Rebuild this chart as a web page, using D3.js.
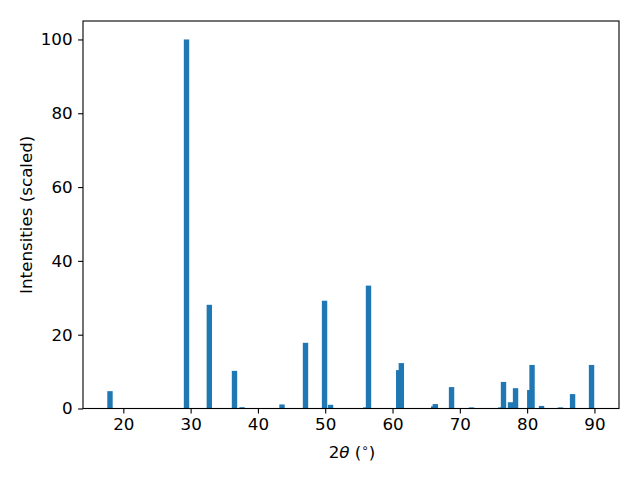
<!DOCTYPE html>
<html>
<head>
<meta charset="utf-8">
<script src="https://cdn.jsdelivr.net/npm/d3@7"></script>
<style>
  body { margin: 0; background: #fff; }
  text { font-family: "DejaVu Sans", sans-serif; }
</style>
</head>
<body>
<svg id="chart" width="640" height="480"></svg>
<script>
// 2-theta positions (degrees)
const twoTheta = [18.02, 29.39, 32.78, 36.52, 37.64, 43.58, 47.07, 49.90, 50.79, 56.02, 56.43,
                  60.92, 61.31, 66.12, 66.36, 68.77, 71.74, 76.08, 76.49, 77.53, 78.28,
                  80.39, 80.73, 82.14, 84.96, 86.75, 89.57];
// scaled intensities
const intensities = [4.7, 100, 28.1, 10.2, 0.35, 1.1, 17.8, 29.2, 1.0, 0.3, 33.3,
                     10.4, 12.3, 0.6, 1.2, 5.8, 0.3, 0.3, 7.2, 1.7, 5.5,
                     5.0, 11.8, 0.7, 0.3, 3.9, 11.8];
const xTicks = [20, 30, 40, 50, 60, 70, 80, 90];
const yTicks = [0, 20, 40, 60, 80, 100];
const barWidth = 0.8;

const svg = d3.select("#chart");
const L = 83, R = 619, T = 21, B = 408.5;
const FS = "16.7px";

const x = d3.scaleLinear().domain([14.01, 93.65]).range([L, R]);
const y = d3.scaleLinear().domain([0, 105]).range([B, T]);

const data = twoTheta.map((t, i) => ({t, v: intensities[i]}));

svg.append("g").selectAll("rect").data(data).enter().append("rect")
  .attr("x", d => x(d.t - barWidth / 2))
  .attr("width", d => x(d.t + barWidth / 2) - x(d.t - barWidth / 2))
  .attr("y", d => y(d.v))
  .attr("height", d => y(0) - y(d.v))
  .attr("fill", "#1f77b4");

// frame
svg.append("rect").attr("x", L).attr("y", T).attr("width", R - L).attr("height", B - T)
  .attr("fill", "none").attr("stroke", "#000").attr("stroke-width", 1.1);

const xAxis = svg.append("g").attr("transform", `translate(0,${B})`)
  .call(d3.axisBottom(x).tickValues(xTicks).tickSize(4.9).tickPadding(4.5).tickFormat(d3.format("d")));
const yAxis = svg.append("g").attr("transform", `translate(${L},0)`)
  .call(d3.axisLeft(y).tickValues(yTicks).tickSize(4.9).tickPadding(5.5).tickFormat(d3.format("d")));
[xAxis, yAxis].forEach(a => {
  a.select(".domain").remove();
  a.attr("font-size", null).attr("font-family", null);
  a.selectAll(".tick line").attr("stroke", "#000").attr("stroke-width", 1.1);
  a.selectAll(".tick text").attr("fill", "#000").style("font-size", FS)
    .style("font-family", "'DejaVu Sans', sans-serif");
});

// x label: 2θ (°)
const xl = svg.append("text").attr("x", (L + R) / 2 + 1).attr("y", 458)
  .attr("text-anchor", "middle").style("font-size", FS).attr("fill", "#000");
xl.append("tspan").text("2");
xl.append("tspan").text("θ").style("font-style", "italic");
xl.append("tspan").text(" (");
xl.append("tspan").text("∘").attr("dy", -6).style("font-size", "12px");
xl.append("tspan").text(")").attr("dy", 6);

svg.append("text")
  .attr("transform", `translate(32,${(T + B) / 2}) rotate(-90)`)
  .attr("text-anchor", "middle").style("font-size", FS).attr("fill", "#000")
  .text("Intensities (scaled)");
</script>
</body>
</html>
